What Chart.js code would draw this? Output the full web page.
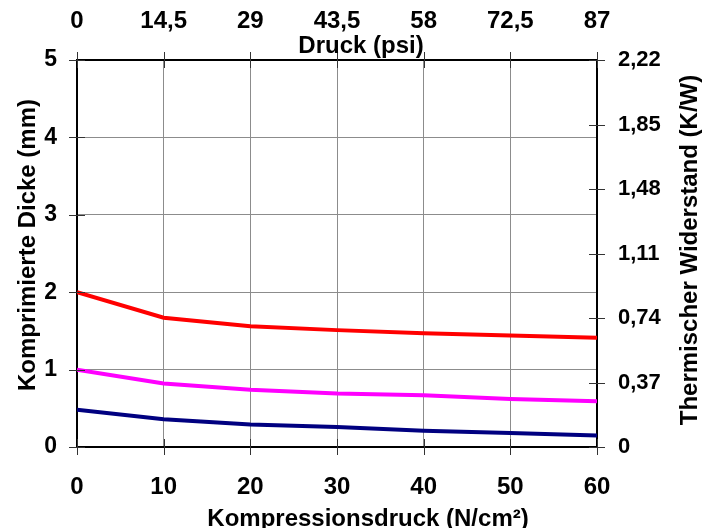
<!DOCTYPE html>
<html>
<head>
<meta charset="utf-8">
<script src="https://cdn.jsdelivr.net/npm/chart.js@4.4.1/dist/chart.umd.min.js"></script>
<style>
  html, body { margin: 0; padding: 0; background: #fff; }
  #wrap { width: 710px; height: 528px; position: relative; }
</style>
</head>
<body>
<div id="wrap"><canvas id="druckChart"></canvas></div>
<script>
// Werte
const pressureNcm = [0, 10, 20, 30, 40, 50, 60];
const redSeries = [2.0, 1.67, 1.56, 1.51, 1.47, 1.44, 1.41];
const magentaSeries = [1.0, 0.82, 0.74, 0.69, 0.67, 0.62, 0.59];
const navySeries = [0.48, 0.36, 0.29, 0.26, 0.21, 0.18, 0.15];

const psiTicks = [0, 14.5, 29, 43.5, 58, 72.5, 87];
const resistanceTicks = [0, 0.37, 0.74, 1.11, 1.48, 1.85, 2.22];

const FONT = '"Liberation Sans", Arial, sans-serif';

function toPoints(values) {
    return pressureNcm.map((x, i) => ({ x: x, y: values[i] }));
}
function comma(v) {
    return String(v).replace('.', ',');
}

// Tick marks crossing the axis lines + axis titles
const axisDecor = {
    id: 'axisDecor',
    afterDraw(chart) {
        const ctx = chart.ctx;
        const a = chart.chartArea;
        ctx.save();
        ctx.strokeStyle = '#333';
        ctx.lineWidth = 1;
        ['x', 'x2', 'y', 'y2'].forEach(id => {
            const s = chart.scales[id];
            s.ticks.forEach((t, i) => {
                const p = Math.round(s.getPixelForTick(i)) + 0.5;
                ctx.beginPath();
                if (s.isHorizontal()) {
                    const y = id === 'x' ? a.bottom : a.top;
                    ctx.moveTo(p, y - 8);
                    ctx.lineTo(p, y + 8);
                } else {
                    const x = id === 'y' ? a.left : a.right;
                    ctx.moveTo(x - 8, p);
                    ctx.lineTo(x + 8, p);
                }
                ctx.stroke();
            });
        });

        ctx.fillStyle = '#000';
        ctx.font = 'bold 24px ' + FONT;
        ctx.textAlign = 'center';
        ctx.textBaseline = 'alphabetic';
        ctx.fillText('Kompressionsdruck (N/cm²)', 368, 526);
        ctx.fillText('Druck (psi)', 361, 53);

        ctx.save();
        ctx.translate(35, 245);
        ctx.rotate(-Math.PI / 2);
        ctx.fillText('Komprimierte Dicke (mm)', 0, 0);
        ctx.restore();

        ctx.save();
        ctx.translate(697, 250);
        ctx.rotate(-Math.PI / 2);
        ctx.fillText('Thermischer Widerstand (K/W)', 0, 0);
        ctx.restore();

        ctx.restore();
    }
};

const ctx = document.getElementById('druckChart').getContext('2d');
new Chart(ctx, {
    type: 'line',
    data: {
        datasets: [
            {
                data: toPoints(redSeries),
                borderColor: '#ff0000',
                borderWidth: 4,
                pointRadius: 0,
                tension: 0,
                xAxisID: 'x',
                yAxisID: 'y'
            },
            {
                data: toPoints(magentaSeries),
                borderColor: '#ff00ff',
                borderWidth: 4,
                pointRadius: 0,
                tension: 0,
                xAxisID: 'x',
                yAxisID: 'y'
            },
            {
                data: toPoints(navySeries),
                borderColor: '#000080',
                borderWidth: 4,
                pointRadius: 0,
                tension: 0,
                xAxisID: 'x',
                yAxisID: 'y'
            }
        ]
    },
    options: {
        responsive: true,
        maintainAspectRatio: false,
        animation: false,
        layout: { padding: 0 },
        plugins: {
            legend: { display: false },
            tooltip: { enabled: false }
        },
        scales: {
            x: {
                type: 'linear',
                position: 'bottom',
                min: 0,
                max: 60,
                ticks: {
                    stepSize: 10,
                    color: '#000',
                    padding: 26,
                    maxRotation: 0,
                    font: { family: FONT, size: 24, weight: 'bold' }
                },
                grid: { color: '#8c8c8c', drawTicks: false },
                border: { color: '#000', width: 2 },
                afterFit(s) { s.height = 81; }
            },
            x2: {
                type: 'linear',
                position: 'top',
                min: 0,
                max: 87,
                afterBuildTicks(s) { s.ticks = psiTicks.map(v => ({ value: v })); },
                ticks: {
                    color: '#000',
                    padding: 24,
                    maxRotation: 0,
                    autoSkip: false,
                    callback: v => comma(v),
                    font: { family: FONT, size: 24, weight: 'bold' }
                },
                grid: { drawOnChartArea: false, drawTicks: false },
                border: { color: '#000', width: 2 },
                afterFit(s) { s.height = 60; }
            },
            y: {
                type: 'linear',
                position: 'left',
                min: 0,
                max: 5,
                ticks: {
                    stepSize: 1,
                    color: '#000',
                    padding: 20,
                    font: { family: FONT, size: 23, weight: 'bold' }
                },
                grid: { color: '#8c8c8c', drawTicks: false },
                border: { color: '#000', width: 2 },
                afterFit(s) { s.width = 77; }
            },
            y2: {
                type: 'linear',
                position: 'right',
                min: 0,
                max: 2.22,
                afterBuildTicks(s) { s.ticks = resistanceTicks.map(v => ({ value: v })); },
                ticks: {
                    color: '#000',
                    padding: 21,
                    autoSkip: false,
                    callback: v => comma(v),
                    font: { family: FONT, size: 22, weight: 'bold' }
                },
                grid: { drawOnChartArea: false, drawTicks: false },
                border: { color: '#000', width: 2 },
                afterFit(s) { s.width = 113; }
            }
        }
    },
    plugins: [axisDecor]
});
</script>
</body>
</html>
